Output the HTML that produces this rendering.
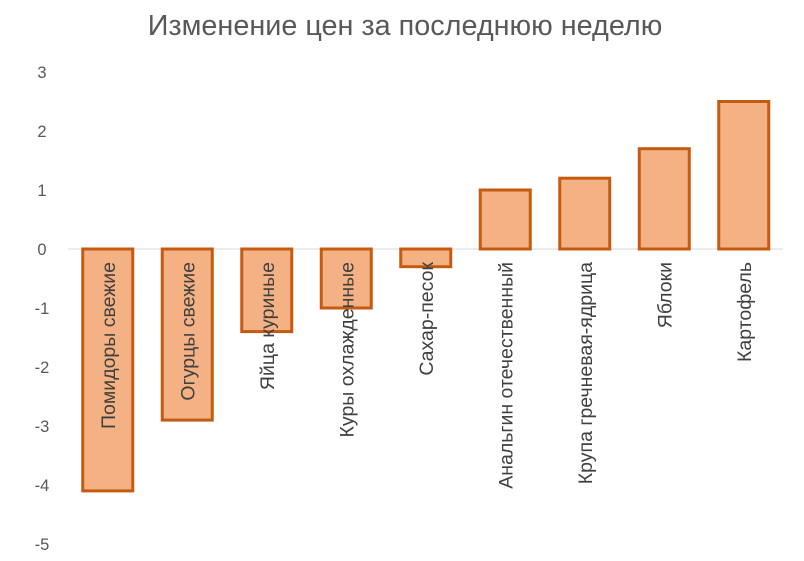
<!DOCTYPE html>
<html><head><meta charset="utf-8"><style>
body{margin:0;background:#fff;}
svg{display:block;font-family:"Liberation Sans","DejaVu Sans",sans-serif;}
</style></head><body>
<svg id="chart" width="804" height="561">
<text x="405" y="35" text-anchor="middle" font-size="28.8" fill="#595959">Изменение цен за последнюю неделю</text>
<g id="yaxis"></g><g id="bars"></g>
</svg>
<script>
const categories=["Помидоры свежие","Огурцы свежие","Яйца куриные","Куры охлажденные","Сахар-песок","Анальгин отечественный","Крупа гречневая-ядрица","Яблоки","Картофель"];
const values=[-4.1,-2.9,-1.4,-1.0,-0.3,1.0,1.2,1.7,2.5];
const yTicks=[3,2,1,0,-1,-2,-3,-4,-5];
const NS="http://www.w3.org/2000/svg";
const y=v=>249-v*59;
const x0=68,step=79.5,bw=50;
const xc=i=>x0+step*(i+0.5);
const ya=document.getElementById('yaxis'),bg=document.getElementById('bars');
function mk(t,a,p){const e=document.createElementNS(NS,t);for(const k in a)e.setAttribute(k,a[k]);p.appendChild(e);return e;}
yTicks.forEach(v=>{const t=mk('text',{x:42,y:y(v)+6,'text-anchor':'middle','font-size':16.5,fill:'#595959'},ya);


t.textContent=v;});
const ax=mk('line',{x1:x0,x2:783,y1:y(0),y2:y(0),stroke:'#d9d9d9','stroke-width':1},ya);


values.forEach((v,i)=>{const top=Math.min(y(v),y(0)),h=Math.abs(y(v)-y(0));
const r=mk('rect',{x:xc(i)-bw/2,y:top,width:bw,height:h,fill:'#F4B183',stroke:'#C55A11','stroke-width':3},bg);


const tx=xc(i)+7,ty=262;
const t=mk('text',{x:tx,y:ty,'text-anchor':'end','font-size':19.5,fill:'#404040',transform:`rotate(-90 ${tx} ${ty})`},bg);


t.textContent=categories[i];});
</script>
</body></html>
